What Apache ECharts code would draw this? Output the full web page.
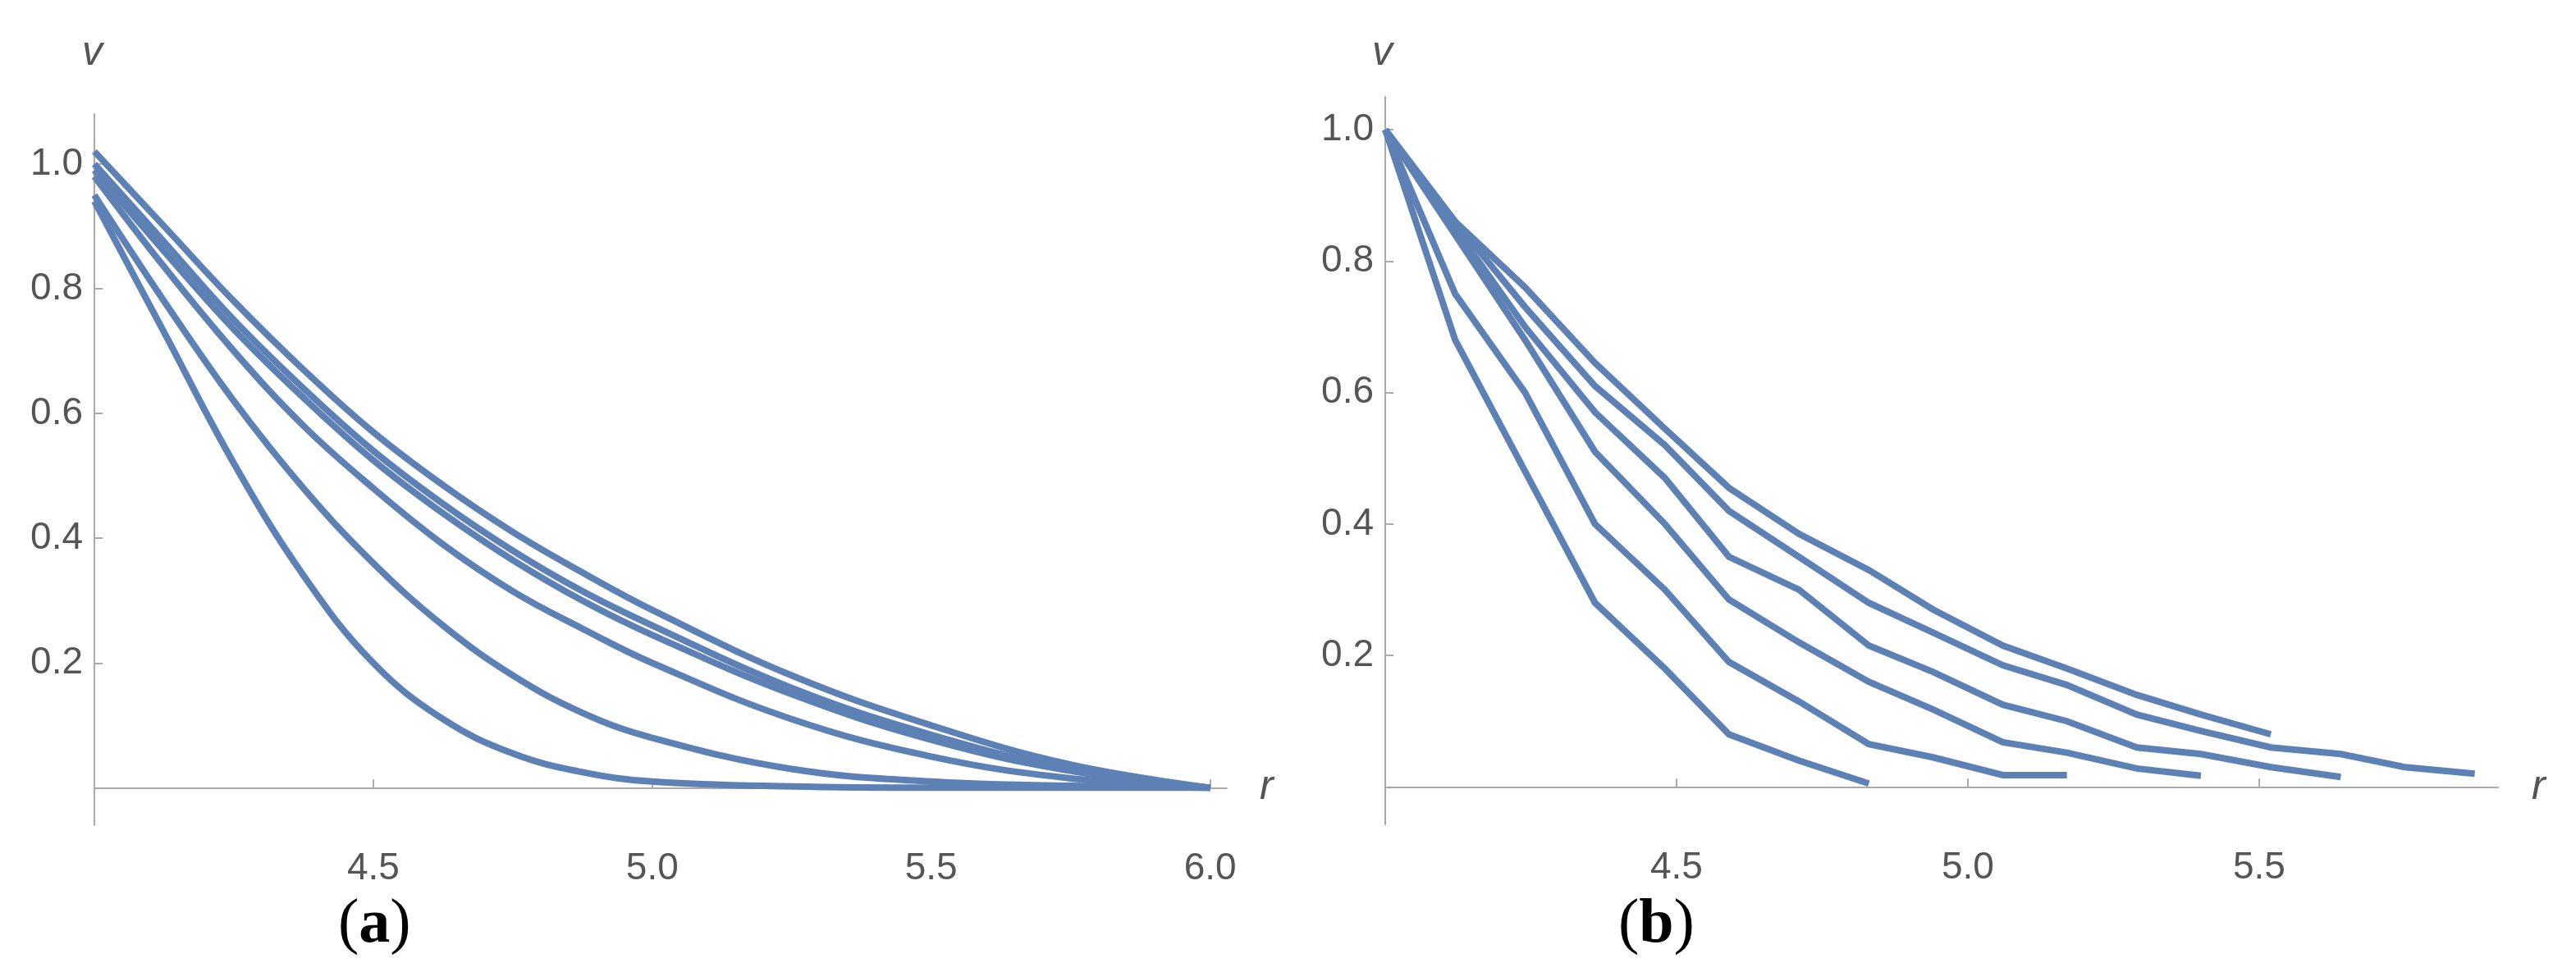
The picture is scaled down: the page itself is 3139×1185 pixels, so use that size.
<!DOCTYPE html>
<html><head><meta charset="utf-8">
<script src="https://cdn.jsdelivr.net/npm/echarts@6/dist/echarts.min.js"></script>
<style>html,body{margin:0;padding:0;background:#fff}#c{width:3139px;height:1185px}</style>
</head><body><div id="c"></div>
<script>
const rA = [4.0,4.125,4.25,4.375,4.5,4.625,4.75,4.875,5.0,5.25,5.5,5.75,6.0];
const a1 = [1.02,0.9,0.78,0.67,0.57,0.485,0.41,0.345,0.285,0.18,0.1,0.037,0];
const a2 = [1.0,0.875,0.75,0.64,0.54,0.455,0.38,0.315,0.26,0.16,0.085,0.03,0];
const a3 = [0.99,0.86,0.735,0.625,0.525,0.44,0.365,0.3,0.245,0.15,0.077,0.027,0];
const a4 = [0.98,0.835,0.7,0.58,0.48,0.39,0.315,0.255,0.2,0.11,0.05,0.015,0];
const a5 = [0.95,0.78,0.62,0.48,0.36,0.26,0.18,0.12,0.08,0.03,0.01,0.003,0];
const a6 = [0.94,0.73,0.52,0.34,0.2,0.11,0.055,0.025,0.01,0.002,0,0,0];
const rB = [4.0,4.12,4.24,4.36,4.48,4.59,4.71,4.83,4.94,5.06,5.17,5.29,5.40,5.52,5.64,5.75,5.87];
const b1 = [1.0,0.68,0.48,0.28,0.18,0.08,0.04,0.005];
const b2 = [1.0,0.75,0.60,0.40,0.30,0.19,0.13,0.065,0.045,0.018,0.018];
const b3 = [1.0,0.84,0.68,0.51,0.40,0.285,0.22,0.16,0.118,0.068,0.052,0.028,0.017];
const b4 = [1.0,0.85,0.70,0.57,0.47,0.35,0.30,0.215,0.175,0.125,0.10,0.06,0.05,0.03,0.015];
const b5 = [1.0,0.86,0.73,0.61,0.52,0.42,0.35,0.28,0.235,0.185,0.155,0.11,0.085,0.06,0.05,0.03,0.02];
const b6 = [1.0,0.86,0.76,0.645,0.545,0.455,0.385,0.33,0.27,0.215,0.18,0.14,0.11,0.08];
const xTicksA = [4.5,5.0,5.5,6.0];
const xTicksB = [4.5,5.0,5.5];
const yTicks = [0.2,0.4,0.6,0.8,1.0];

const FONT = "'Liberation Sans',Arimo,sans-serif";
const COLOR = '#5e81b5';
const zip = (r, v) => v.map((y, i) => [r[i], y]);
const axisLine = {lineStyle:{color:'#aaa', width:2}};
function xAx(idx, max, ticks){
  return {type:'value', gridIndex:idx, min:4.0, max:max,
    axisLine:Object.assign({onZero:true}, axisLine),
    axisTick:{show:true, inside:true, length:10, lineStyle:{color:'#aaa',width:2}, customValues:ticks},
    axisLabel:{customValues:ticks, formatter:v=>v.toFixed(1), fontFamily:FONT, fontSize:46, color:'#555', margin:30},
    splitLine:{show:false}};
}
function yAx(idx, min, max){
  return {type:'value', gridIndex:idx, min:min, max:max,
    axisLine:Object.assign({show:true}, axisLine),
    axisTick:{show:true, inside:true, length:10, lineStyle:{color:'#aaa',width:2}, customValues:yTicks},
    axisLabel:{customValues:yTicks, formatter:v=>v.toFixed(1), fontFamily:FONT, fontSize:46, color:'#555', margin:14},
    splitLine:{show:false}};
}
const series = [];
[a1,a2,a3,a4,a5,a6].forEach(d=>series.push({type:'line', xAxisIndex:0, yAxisIndex:0, data:zip(rA,d), smooth:0.4, showSymbol:false, lineStyle:{color:COLOR,width:8}}));
[b1,b2,b3,b4,b5,b6].forEach(d=>series.push({type:'line', xAxisIndex:1, yAxisIndex:1, data:zip(rB,d), smooth:false, showSymbol:false, lineStyle:{color:COLOR,width:8,cap:'butt',join:'miter'}}));

const chart = echarts.init(document.getElementById('c'));
chart.setOption({
  backgroundColor:'#fff', animation:false,
  grid:[{left:115, top:139, width:1380, height:867},
        {left:1688, top:118, width:1356, height:887}],
  xAxis:[xAx(0,6.03,xTicksA), xAx(1,5.91,xTicksB)],
  yAxis:[yAx(0,-0.06,1.08), yAx(1,-0.057,1.05)],
  series:series,
  graphic:[
    {type:'text', left:100, top:40, style:{text:'v', font:"italic 50px 'Liberation Sans'", fill:'#555'}},
    {type:'text', left:1535, top:935, style:{text:'r', font:"italic 50px 'Liberation Sans'", fill:'#555'}},
    {type:'text', left:1672, top:40, style:{text:'v', font:"italic 50px 'Liberation Sans'", fill:'#555'}},
    {type:'text', left:3085, top:935, style:{text:'r', font:"italic 50px 'Liberation Sans'", fill:'#555'}},
    {type:'text', left:412, top:1090, style:{rich:{p:{font:"76px 'Liberation Serif'",fill:'#000'},b:{font:"bold 76px 'Liberation Serif'",fill:'#000'}}, text:'{p|(}{b|a}{p|)}'}},
    {type:'text', left:1972, top:1090, style:{rich:{p:{font:"76px 'Liberation Serif'",fill:'#000'},b:{font:"bold 76px 'Liberation Serif'",fill:'#000'}}, text:'{p|(}{b|b}{p|)}'}}
  ]
});
</script></body></html>
